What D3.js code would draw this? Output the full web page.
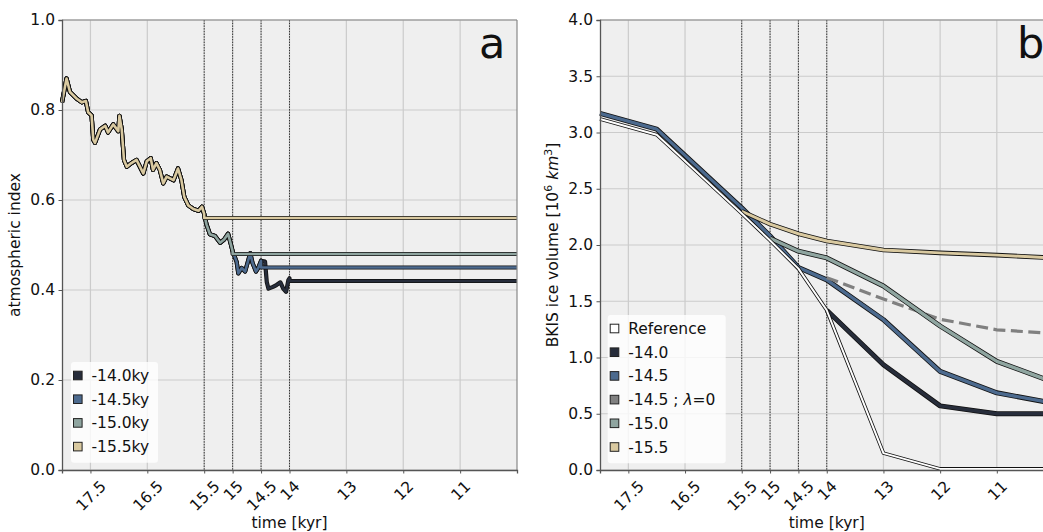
<!DOCTYPE html>
<html>
<head>
<meta charset="utf-8">
<script src="https://cdn.jsdelivr.net/npm/d3@7"></script>
<style>
  body { margin: 0; background: #fff; }
  svg { display: block; font-family: "DejaVu Sans", sans-serif; }
</style>
</head>
<body>
<svg id="figure" width="1043" height="532"></svg>
<script>
// ---- panel a : atmospheric index forcing ----
const forcingTime = [18.00, 17.92, 17.86, 17.74, 17.65, 17.58, 17.54, 17.48, 17.45, 17.42,
  17.33, 17.24, 17.19, 17.10, 17.01, 16.99, 16.95, 16.91, 16.86, 16.78,
  16.69, 16.63, 16.57, 16.51, 16.44, 16.40, 16.34, 16.28, 16.22, 16.16,
  16.10, 16.04, 15.96, 15.90, 15.85, 15.78, 15.69, 15.60, 15.54, 15.50,
  15.46, 15.40, 15.31, 15.22, 15.15, 15.08, 15.03, 15.00, 14.93, 14.90,
  14.84, 14.78, 14.69, 14.65, 14.59, 14.55, 14.50, 14.43, 14.40, 14.37,
  14.29, 14.23, 14.16, 14.11, 14.06, 14.02, 14.00];
const forcingIndex = [0.817, 0.870, 0.840, 0.825, 0.817, 0.820, 0.795, 0.788, 0.734, 0.727,
  0.757, 0.765, 0.750, 0.768, 0.753, 0.787, 0.757, 0.689, 0.674, 0.682,
  0.689, 0.674, 0.659, 0.686, 0.693, 0.667, 0.682, 0.667, 0.637, 0.652,
  0.648, 0.644, 0.670, 0.644, 0.607, 0.588, 0.580, 0.576, 0.585, 0.569,
  0.546, 0.524, 0.520, 0.505, 0.512, 0.525, 0.501, 0.486, 0.463, 0.437,
  0.449, 0.441, 0.482, 0.460, 0.441, 0.449, 0.465, 0.463, 0.418, 0.403,
  0.407, 0.411, 0.417, 0.403, 0.396, 0.422, 0.426];

const scenarioNames = ["-14.0ky", "-14.5ky", "-15.0ky", "-15.5ky"];
const scenarioStart = [14.0, 14.5, 15.0, 15.5];   // forcing frozen from here on
const scenarioHold = [0.42, 0.45, 0.48, 0.56];    // frozen index value
const scenarioColors = ["#272d3b", "#4c6a8e", "#8fa5a0", "#d9c9a0"];

// ---- panel b : BKIS ice volume ----
const refTime = [18, 17, 15.5, 15, 14.5, 14, 13, 12, 11, 10];
const refVolume = [3.12, 2.98, 2.28, 2.04, 1.79, 1.42, 0.15, 0.01, 0.01, 0.01];
const run140Time = [14, 13, 12, 11, 10];
const run140Volume = [1.42, 0.936, 0.57, 0.50, 0.50];
const run145Time = [18, 17, 15.5, 15, 14.5, 14, 13, 12, 11, 10];
const run145Volume = [3.17, 3.03, 2.33, 2.08, 1.80, 1.69, 1.336, 0.876, 0.686, 0.593];
const run145NoLambdaTime = [14, 13, 12, 11, 10];
const run145NoLambdaVolume = [1.71, 1.52, 1.34, 1.246, 1.214];
const run150Time = [15, 14.5, 14, 13, 12, 11, 10];
const run150Volume = [2.06, 1.945, 1.885, 1.635, 1.28, 0.966, 0.78];
const run155Time = [15.5, 15, 14.5, 14, 13, 12, 11, 10];
const run155Volume = [2.30, 2.185, 2.10, 2.035, 1.955, 1.93, 1.91, 1.885];

const volumeLegend = ["Reference", "-14.0", "-14.5", "-14.5 ; λ=0", "-15.0", "-15.5"];
const volumeColors = ["#ffffff", "#272d3b", "#4c6a8e", "#808080", "#8fa5a0", "#d9c9a0"];

// ---- shared axis settings ----
const xTicks = [17.5, 16.5, 15.5, 15, 14.5, 14, 13, 12, 11];
const markerTimes = [15.5, 15, 14.5, 14];
const indexTicks = [0, 0.2, 0.4, 0.6, 0.8, 1.0];
const volumeTicks = [0, 0.5, 1.0, 1.5, 2.0, 2.5, 3.0, 3.5, 4.0];

const FS = 15.5;
const svg = d3.select("#figure");

function makePanel(left, width, yMax, yTicks, panelLetter) {
  const top = 20, height = 450;
  const g = svg.append("g").attr("transform", `translate(${left},${top})`);
  const x = d3.scaleLinear().domain([18, 10]).range([0, width]);
  const y = d3.scaleLinear().domain([0, yMax]).range([height, 0]);

  g.append("rect").attr("width", width).attr("height", height).attr("fill", "#efefef");

  // grid
  g.append("g").selectAll("line").data(xTicks).join("line")
    .attr("x1", d => x(d)).attr("x2", d => x(d)).attr("y1", 0).attr("y2", height)
    .attr("stroke", "#cbcbcb").attr("stroke-width", 1.2);
  g.append("g").selectAll("line").data(yTicks).join("line")
    .attr("x1", 0).attr("x2", width).attr("y1", d => y(d)).attr("y2", d => y(d))
    .attr("stroke", "#cbcbcb").attr("stroke-width", 1.2);

  // dotted markers
  g.append("g").selectAll("line").data(markerTimes).join("line")
    .attr("x1", d => x(d)).attr("x2", d => x(d)).attr("y1", 0).attr("y2", height)
    .attr("stroke", "#222").attr("stroke-width", 0.9).attr("stroke-dasharray", "1.5 1.2");

  const lines = g.append("g");

  // spines
  g.append("line").attr("x1", 0).attr("x2", width).attr("y1", 0).attr("y2", 0).attr("stroke", "#888").attr("stroke-width", 1.2);
  g.append("line").attr("x1", width).attr("x2", width).attr("y1", 0).attr("y2", height).attr("stroke", "#888").attr("stroke-width", 1.2);

  // axes
  const xAxis = g.append("g").attr("transform", `translate(0,${height})`)
    .call(d3.axisBottom(x).tickValues(xTicks).tickSize(3.5).tickFormat(d => String(d)));
  xAxis.select(".domain").attr("stroke", "#555").attr("stroke-width", 1.3);
  xAxis.selectAll(".tick line").attr("stroke", "#555").attr("stroke-width", 1);
  xAxis.selectAll("text").attr("font-size", FS).attr("fill", "#111").attr("font-family", "DejaVu Sans")
    .each(function () {
      const w = this.getComputedTextLength();
      const h = FS * 1.17;
      const c = 7 + (w + h) / (2 * Math.SQRT2);
      d3.select(this).attr("y", 0).attr("dy", "0.35em").attr("text-anchor", "middle")
        .attr("transform", `translate(0,${c}) rotate(-45)`);
    });

  const yAxis = g.append("g")
    .call(d3.axisLeft(y).tickValues(yTicks).tickSize(3.5).tickPadding(3.5).tickFormat(d3.format(".1f")));
  yAxis.select(".domain").attr("stroke", "#555").attr("stroke-width", 1.3);
  yAxis.selectAll(".tick line").attr("stroke", "#555").attr("stroke-width", 1);
  yAxis.selectAll("text").attr("font-size", FS).attr("fill", "#111").attr("font-family", "DejaVu Sans");

  g.append("text").attr("x", width / 2).attr("y", 508).attr("text-anchor", "middle")
    .attr("font-size", FS).attr("fill", "#111").text("time [kyr]");

  g.append("text").attr("x", 417).attr("y", 38).attr("font-size", 43).attr("fill", "#111").text(panelLetter);

  return { g, x, y, lines };
}

function outlinedLine(layer, pts, x, y, color, w, edge) {
  const line = d3.line().x(d => x(d[0])).y(d => y(d[1]));
  layer.append("path").attr("d", line(pts)).attr("fill", "none")
    .attr("stroke", "#111").attr("stroke-width", w + edge).attr("stroke-linejoin", "round");
  layer.append("path").attr("d", line(pts)).attr("fill", "none")
    .attr("stroke", color).attr("stroke-width", w).attr("stroke-linejoin", "round");
}

function legend(g, x0, y0, w, names, colors) {
  const rowH = 23.7;
  const lg = g.append("g").attr("transform", `translate(${x0},${y0})`);
  lg.append("rect").attr("width", w).attr("height", names.length * rowH + 6)
    .attr("rx", 3).attr("fill", "#fff").attr("fill-opacity", 0.8);
  names.forEach((n, i) => {
    const cy = 13.5 + i * rowH;
    lg.append("rect").attr("x", 2.5).attr("y", cy - 4.3).attr("width", 8.6).attr("height", 8.6)
      .attr("fill", colors[i]).attr("stroke", "#222").attr("stroke-width", 1);
    const t = lg.append("text").attr("x", 20.5).attr("y", cy).attr("dy", "0.36em")
      .attr("font-size", FS).attr("fill", "#111");
    if (n.includes("λ")) {
      const parts = n.split("λ");
      t.append("tspan").text(parts[0]);
      t.append("tspan").attr("font-style", "italic").text("λ");
      t.append("tspan").text(parts[1]);
    } else {
      t.text(n);
    }
  });
}

// ---------- panel a ----------
const pa = makePanel(62, 455, 1.0, indexTicks, "a");
scenarioNames.forEach((name, i) => {
  const pts = [];
  forcingTime.forEach((t, k) => { if (t >= scenarioStart[i]) pts.push([t, forcingIndex[k]]); });
  pts.push([scenarioStart[i], scenarioHold[i]]);
  pts.push([10, scenarioHold[i]]);
  outlinedLine(pa.lines, pts, pa.x, pa.y, scenarioColors[i], 2.6, 1.6);
});
legend(pa.g, 9, 342, 87, scenarioNames, scenarioColors);
pa.g.append("text").attr("transform", "translate(-42,225) rotate(-90)").attr("text-anchor", "middle")
  .attr("font-size", FS).attr("fill", "#111").text("atmospheric index");

// ---------- panel b ----------
const pb = makePanel(600, 453.5, 4.0, volumeTicks, "b");
const zip = (a, b) => a.map((t, i) => [t, b[i]]);
outlinedLine(pb.lines, zip(run140Time, run140Volume), pb.x, pb.y, volumeColors[1], 3.4, 1.6);
outlinedLine(pb.lines, zip(run145Time, run145Volume), pb.x, pb.y, volumeColors[2], 3.4, 1.6);
pb.lines.append("path")
  .attr("d", d3.line().x(d => pb.x(d[0])).y(d => pb.y(d[1]))(zip(run145NoLambdaTime, run145NoLambdaVolume)))
  .attr("fill", "none").attr("stroke", volumeColors[3]).attr("stroke-width", 3.2)
  .attr("stroke-dasharray", "12 5.5");
outlinedLine(pb.lines, zip(run150Time, run150Volume), pb.x, pb.y, volumeColors[4], 3.4, 1.6);
outlinedLine(pb.lines, zip(run155Time, run155Volume), pb.x, pb.y, volumeColors[5], 3.0, 1.6);
outlinedLine(pb.lines, zip(refTime, refVolume), pb.x, pb.y, volumeColors[0], 2.0, 1.6);
legend(pb.g, 7.7, 295, 118, volumeLegend, volumeColors);

const yl = pb.g.append("text").attr("transform", "translate(-42,225) rotate(-90)").attr("text-anchor", "middle")
  .attr("font-size", FS).attr("fill", "#111");
yl.append("tspan").text("BKIS ice volume [10");
yl.append("tspan").attr("dy", -6).attr("font-size", 11).text("6");
yl.append("tspan").attr("dy", 6).text(" ");
yl.append("tspan").attr("font-style", "italic").text("km");
yl.append("tspan").attr("dy", -6).attr("font-size", 11).text("3");
yl.append("tspan").attr("dy", 6).text("]");
</script>
</body>
</html>
